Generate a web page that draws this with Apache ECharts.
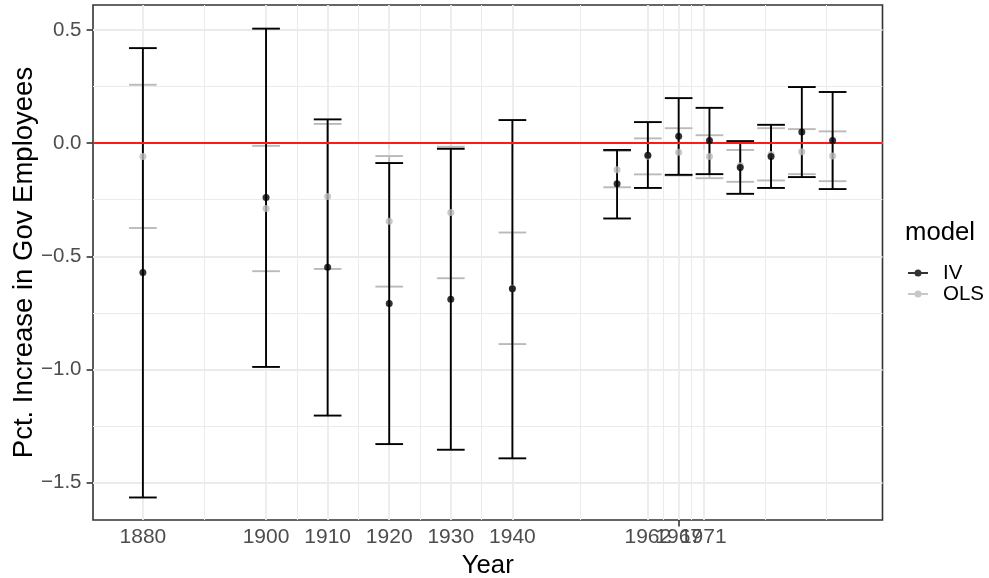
<!DOCTYPE html>
<html>
<head>
<meta charset="utf-8">
<script src="https://cdn.jsdelivr.net/npm/echarts@6/dist/echarts.min.js"></script>
<style>
html,body{margin:0;padding:0;background:#fff;}
#chart{width:989px;height:578px;}
</style>
</head>
<body>
<div id="chart"></div>
<script>
// ---- data ----
var years   = [1880, 1900, 1910, 1920, 1930, 1940, 1957, 1962, 1967, 1972, 1977, 1982, 1987, 1992];
var ivEst   = [-0.572, -0.240, -0.548, -0.709, -0.690, -0.644, -0.180, -0.053, 0.030, 0.012, -0.108, -0.059, 0.049, 0.012];
var ivLow   = [-1.566, -0.989, -1.204, -1.330, -1.355, -1.393, -0.333, -0.198, -0.140, -0.137, -0.224, -0.198, -0.150, -0.203];
var ivHigh  = [0.420, 0.506, 0.105, -0.088, -0.025, 0.102, -0.030, 0.093, 0.199, 0.156, 0.009, 0.081, 0.248, 0.226];
var olsEst  = [-0.059, -0.289, -0.236, -0.345, -0.307, -0.641, -0.118, -0.058, -0.040, -0.059, -0.100, -0.050, -0.038, -0.057];
var olsLow  = [-0.375, -0.566, -0.556, -0.634, -0.597, -0.888, -0.195, -0.138, -0.143, -0.155, -0.171, -0.165, -0.137, -0.168];
var olsHigh = [0.258, -0.012, 0.085, -0.057, -0.016, -0.395, -0.035, 0.021, 0.066, 0.035, -0.030, 0.066, 0.062, 0.052];
var xTicks  = [1880, 1900, 1910, 1920, 1930, 1940, 1962, 1967, 1971];
var yTicks  = [-1.5, -1.0, -0.5, 0.0, 0.5];
var seriesNames = ['IV', 'OLS'];

// ---- styling ----
var FONT = "'Liberation Sans', Arial, Helvetica, sans-serif";
var IV_COLOR = '#000000';
var OLS_COLOR = '#bababa';
var GRID_COLOR = '#ebebeb';
var CAP_HALF = 2.25;

// x tick labels overlap in the original; split them over two stacked axes so none is dropped
var xTicksA = xTicks.filter(function (v, i) { return i !== xTicks.length - 2; });
var xTicksB = [xTicks[xTicks.length - 2]];

// minor gridline positions (ggplot style: midpoints of breaks, extended by first break step)
function minorsOf(b) {
  var step = b[1] - b[0];
  var ext = [b[0] - step].concat(b, [b[b.length - 1] + step]);
  var out = [];
  for (var i = 0; i < ext.length - 1; i++) out.push((ext[i] + ext[i + 1]) / 2);
  out.push(ext[0], ext[ext.length - 1]);
  return out.filter(function (v) { return b.indexOf(v) < 0; });
}
var xMinor = minorsOf(xTicks);
var yMinor = minorsOf(yTicks);

function errData(lo, hi) {
  return years.map(function (y, i) { return [y, lo[i], hi[i]]; });
}
function ptData(est) {
  return years.map(function (y, i) { return [y, est[i]]; });
}
function errRender(color) {
  return function (params, api) {
    var x = api.value(0), lo = api.value(1), hi = api.value(2);
    var pHi = api.coord([x, hi]);
    var pLo = api.coord([x, lo]);
    var half = api.size([CAP_HALF, 0])[0];
    var st = { stroke: color, lineWidth: 1.9 };
    return {
      type: 'group',
      children: [
        { type: 'line', shape: { x1: pHi[0], y1: pHi[1], x2: pLo[0], y2: pLo[1] }, style: st },
        { type: 'line', shape: { x1: pHi[0] - half, y1: pHi[1], x2: pHi[0] + half, y2: pHi[1] }, style: st },
        { type: 'line', shape: { x1: pLo[0] - half, y1: pLo[1], x2: pLo[0] + half, y2: pLo[1] }, style: st }
      ]
    };
  };
}

var gridLines = [];
xTicks.forEach(function (v) { gridLines.push({ xAxis: v, lineStyle: { color: GRID_COLOR, width: 1.8, type: 'solid' } }); });
xMinor.forEach(function (v) { gridLines.push({ xAxis: v, lineStyle: { color: GRID_COLOR, width: 1.0, type: 'solid' } }); });
yTicks.forEach(function (v) { gridLines.push({ yAxis: v, lineStyle: { color: GRID_COLOR, width: 1.8, type: 'solid' } }); });
yMinor.forEach(function (v) { gridLines.push({ yAxis: v, lineStyle: { color: GRID_COLOR, width: 1.0, type: 'solid' } }); });

var chart = echarts.init(document.getElementById('chart'), null, { renderer: 'canvas' });
var legendIcon = 'path://M0,3 L20,3 L20,5 L0,5 Z M6.5,4 A3.5,3.5 0 1,1 13.5,4 A3.5,3.5 0 1,1 6.5,4 Z';

function xAxisDef(ticks, withName) {
  return {
    type: 'value', min: 1871.9, max: 2000.1, position: 'bottom', offset: 0,
    name: withName ? 'Year' : '', nameLocation: 'middle', nameGap: 30,
    nameTextStyle: { fontFamily: FONT, fontSize: 25.7, lineHeight: 25.7, color: '#000000' },
    axisLine: { show: false },
    axisTick: { show: true, length: 6.4, lineStyle: { color: '#333333', width: 1.6 }, customValues: ticks },
    axisLabel: { show: true, margin: 7, fontFamily: FONT, fontSize: 21, lineHeight: 21, color: '#4d4d4d',
      customValues: ticks, hideOverlap: false, showMinLabel: true, showMaxLabel: true,
      formatter: function (v) { return String(v); } },
    splitLine: { show: false }, minorSplitLine: { show: false }
  };
}

chart.setOption({
  animation: false,
  backgroundColor: '#ffffff',
  textStyle: { fontFamily: FONT },
  grid: {
    left: 93, top: 5, right: 106.5, bottom: 58,
    show: true, borderColor: '#333333', borderWidth: 1.6, backgroundColor: 'transparent',
    containLabel: false, outerBoundsMode: 'none'
  },
  title: {
    text: 'model', left: 905, top: 220, padding: 0,
    textStyle: { fontFamily: FONT, fontSize: 25.7, lineHeight: 25.7, fontWeight: 'normal', color: '#000000' }
  },
  legend: {
    orient: 'vertical', left: 908, top: 262.5, padding: 0, itemGap: 0,
    itemWidth: 20, itemHeight: 7,
    data: [{ name: 'IV', icon: legendIcon }, { name: 'OLS', icon: legendIcon }],
    textStyle: { fontFamily: FONT, fontSize: 20.5, lineHeight: 19.5, color: '#000000', padding: [0, 0, 0, 10] },
    selectedMode: false
  },
  xAxis: [xAxisDef(xTicksA, true), xAxisDef(xTicksB, false)],
  yAxis: {
    type: 'value', min: -1.6655, max: 0.6105,
    name: 'Pct. Increase in Gov Employees', nameLocation: 'middle', nameGap: 55, nameRotate: 90,
    nameMoveOverlap: false,
    nameTextStyle: { fontFamily: FONT, fontSize: 27.5, lineHeight: 27.5, color: '#000000' },
    axisLine: { show: false },
    axisTick: { show: true, length: 6.4, lineStyle: { color: '#333333', width: 1.6 }, customValues: yTicks },
    axisLabel: { show: true, margin: 11.5, fontFamily: FONT, fontSize: 20.5, color: '#4d4d4d',
      customValues: yTicks, showMinLabel: true, showMaxLabel: true,
      formatter: function (v) { return (v < 0 ? '\u2212' : '') + Math.abs(v).toFixed(1); } },
    splitLine: { show: false }, minorSplitLine: { show: false }
  },
  series: [
    {
      name: 'gridlines', type: 'scatter', data: [], silent: true, z: 1,
      markLine: { silent: true, z: 1, symbol: ['none', 'none'], label: { show: false }, animation: false, data: gridLines }
    },
    {
      name: 'OLS-err', type: 'custom', z: 2, silent: true,
      renderItem: errRender(OLS_COLOR), encode: { x: 0, y: [1, 2] }, data: errData(olsLow, olsHigh)
    },
    {
      name: 'IV-err', type: 'custom', z: 3, silent: true,
      renderItem: errRender(IV_COLOR), encode: { x: 0, y: [1, 2] }, data: errData(ivLow, ivHigh)
    },
    {
      name: 'zero', type: 'scatter', data: [], silent: true, z: 4,
      markLine: { silent: true, z: 4, symbol: ['none', 'none'], label: { show: false }, animation: false,
        data: [{ yAxis: 0, lineStyle: { color: '#ff1a1a', width: 1.8, type: 'solid' } }] }
    },
    {
      name: seriesNames[1], type: 'scatter', z: 5, symbol: 'circle', symbolSize: 7,
      itemStyle: { color: OLS_COLOR }, data: ptData(olsEst)
    },
    {
      name: seriesNames[0], type: 'scatter', z: 6, symbol: 'circle', symbolSize: 7,
      itemStyle: { color: IV_COLOR }, data: ptData(ivEst)
    }
  ]
});
</script>
</body>
</html>
